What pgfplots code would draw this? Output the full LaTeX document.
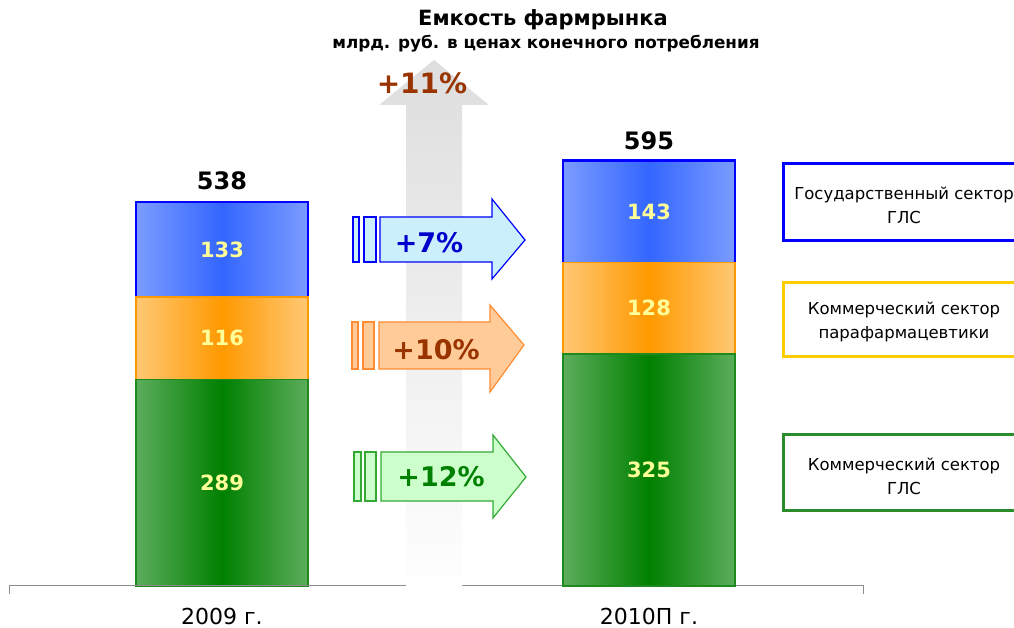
\documentclass[border=0pt]{standalone}
\usepackage{fontspec}
\setmainfont{DejaVu Sans}
\usepackage{pgfplots}
\pgfplotsset{compat=1.18}

\definecolor{bEdge}{HTML}{7B9CFF}
\definecolor{bMid}{HTML}{3366FF}
\definecolor{bLine}{HTML}{0000FF}
\definecolor{oEdge}{HTML}{FFC875}
\definecolor{oMid}{HTML}{FF9900}
\definecolor{oLine}{HTML}{FF9900}
\definecolor{gEdge}{HTML}{5CAD5C}
\definecolor{gMid}{HTML}{008000}
\definecolor{gLine}{HTML}{1E8A1E}
\definecolor{lblY}{HTML}{FFFF99}
\definecolor{brownT}{HTML}{993300}
\definecolor{legGold}{HTML}{FFCC00}
\definecolor{legGreen}{HTML}{2A8C2A}

\pgfdeclarehorizontalshading{bshade}{100bp}{color(0bp)=(bEdge); color(25bp)=(bEdge); color(50bp)=(bMid); color(75bp)=(bEdge); color(100bp)=(bEdge)}
\pgfdeclarehorizontalshading{oshade}{100bp}{color(0bp)=(oEdge); color(25bp)=(oEdge); color(50bp)=(oMid); color(75bp)=(oEdge); color(100bp)=(oEdge)}
\pgfdeclarehorizontalshading{gshade}{100bp}{color(0bp)=(gEdge); color(25bp)=(gEdge); color(50bp)=(gMid); color(75bp)=(gEdge); color(100bp)=(gEdge)}

\newcommand\pp[2]{(#1,{628-#2})}

\tikzset{
  gbar/.style={shade, shading=gshade, draw=gLine, line width=1.5bp},
  obar/.style={shade, shading=oshade, draw=oLine, line width=1.5bp},
  bbar/.style={shade, shading=bshade, draw=bLine, line width=2.2bp},
  seg/.style={text=lblY, font=\fontsize{21bp}{24bp}\selectfont\bfseries},
  tot/.style={text=black, font=\fontsize{24bp}{27bp}\selectfont\bfseries},
  leg/.style={align=center, font=\fontsize{16.5bp}{24bp}\selectfont},
}
\pgfplotsset{
  baseax/.style={
    at={(0,0)}, anchor=south west,
    scale only axis, width=1014bp, height=628bp,
    xmin=0, xmax=1014, ymin=-58.84, ymax=820.96,
    ybar stacked, bar width=172,
    axis line style={draw=none}, tick style={draw=none},
    ytick=\empty,
    clip=false,
  },
}

\begin{document}
\begin{tikzpicture}[x=1bp,y=1bp]
% 2009 bar
\begin{axis}[baseax,
  xtick={222,649}, xticklabels={2009 г.,2010П г.},
  xticklabel style={anchor=center, inner sep=0pt, yshift=12bp, font=\fontsize{22bp}{26bp}\selectfont},
]
\draw[gray!90, line width=1bp] (axis cs:9,-11) -- (axis cs:9,0) -- (axis cs:863,0) -- (axis cs:863,-11);
\draw[gray!90, line width=1bp] (axis cs:435,0) -- (axis cs:435,-11);
\addplot[gbar] coordinates {(222,289)};
\addplot[obar] coordinates {(222,116)};
\addplot[bbar] coordinates {(222,133)};
\end{axis}
% 2010 bar
\begin{axis}[baseax, xtick=\empty]
\addplot[gbar] coordinates {(649,325)};
\addplot[obar] coordinates {(649,128)};
\addplot[bbar] coordinates {(649,143)};
\end{axis}
% value labels
\begin{axis}[baseax, xtick=\empty]
\node[seg] at (axis cs:222,144.5) {289};
\node[seg] at (axis cs:222,347) {116};
\node[seg] at (axis cs:222,471.5) {133};
\node[tot] at (axis cs:222,567.4) {538};
\node[seg] at (axis cs:649,162.5) {325};
\node[seg] at (axis cs:649,389) {128};
\node[seg] at (axis cs:649,524.5) {143};
\node[tot] at (axis cs:649,623.4) {595};
\end{axis}

% big growth arrow
\shade[top color=black!13, middle color=black!8, bottom color=white]
  \pp{406}{600} -- \pp{406}{105} -- \pp{379}{105} -- \pp{434}{60} -- \pp{489}{105} -- \pp{462}{105} -- \pp{462}{600} -- cycle;
\node[text=brownT, font=\fontsize{28bp}{32bp}\selectfont\bfseries] at \pp{422}{83} {+11\%};

% +7%
\begin{scope}[draw=bLine, fill=cyan!20, line width=1.2bp]
\filldraw \pp{353}{217} rectangle \pp{359}{262};
\filldraw \pp{364}{217} rectangle \pp{376}{262};
\filldraw \pp{380}{217} -- \pp{492}{217} -- \pp{492}{199} -- \pp{525}{240} -- \pp{492}{279} -- \pp{492}{262} -- \pp{380}{262} -- cycle;
\end{scope}
\node[text=blue!80!black, font=\fontsize{27bp}{30bp}\selectfont\bfseries] at \pp{429}{243} {+7\%};

% +10%
\begin{scope}[draw={rgb,255:red,255;green,140;blue,51}, fill={rgb,255:red,255;green,204;blue,153}, line width=1.2bp]
\filldraw \pp{352}{322} rectangle \pp{358}{369};
\filldraw \pp{363}{322} rectangle \pp{374}{369};
\filldraw \pp{379}{322} -- \pp{490}{322} -- \pp{490}{305} -- \pp{524}{345} -- \pp{490}{392} -- \pp{490}{369} -- \pp{379}{369} -- cycle;
\end{scope}
\node[text=brownT, font=\fontsize{27bp}{30bp}\selectfont\bfseries] at \pp{436}{350} {+10\%};

% +12%
\begin{scope}[draw={rgb,255:red,51;green,170;blue,51}, fill={rgb,255:red,204;green,255;blue,204}, line width=1.2bp]
\filldraw \pp{354}{452} rectangle \pp{361}{501};
\filldraw \pp{365}{452} rectangle \pp{376}{501};
\filldraw \pp{381}{452} -- \pp{493}{452} -- \pp{493}{435} -- \pp{526}{477} -- \pp{493}{518} -- \pp{493}{501} -- \pp{381}{501} -- cycle;
\end{scope}
\node[text=gMid, font=\fontsize{27bp}{30bp}\selectfont\bfseries] at \pp{441}{477} {+12\%};

% titles
\node[font=\fontsize{21bp}{24bp}\selectfont\bfseries] at \pp{543}{20} {Емкость фармрынка};
\node[font=\fontsize{16.8bp}{19bp}\selectfont\bfseries] at \pp{546}{44} {млрд. руб. в ценах конечного потребления};

% legend boxes
\draw[bLine, line width=3bp] \pp{1030}{164} -- \pp{783}{164} -- \pp{783}{241} -- \pp{1030}{241};
\node[leg] at \pp{904}{205} {Государственный сектор\\ГЛС};
\draw[legGold, line width=3bp] \pp{1030}{283} -- \pp{783}{283} -- \pp{783}{357} -- \pp{1030}{357};
\node[leg] at \pp{904}{322} {Коммерческий сектор\\парафармацевтики};
\draw[legGreen, line width=3bp] \pp{1030}{435} -- \pp{783}{435} -- \pp{783}{511} -- \pp{1030}{511};
\node[leg] at \pp{904}{476} {Коммерческий сектор\\ГЛС};

\pgfresetboundingbox
\path[use as bounding box] (0,0) rectangle (1014,628);
\end{tikzpicture}
\end{document}
